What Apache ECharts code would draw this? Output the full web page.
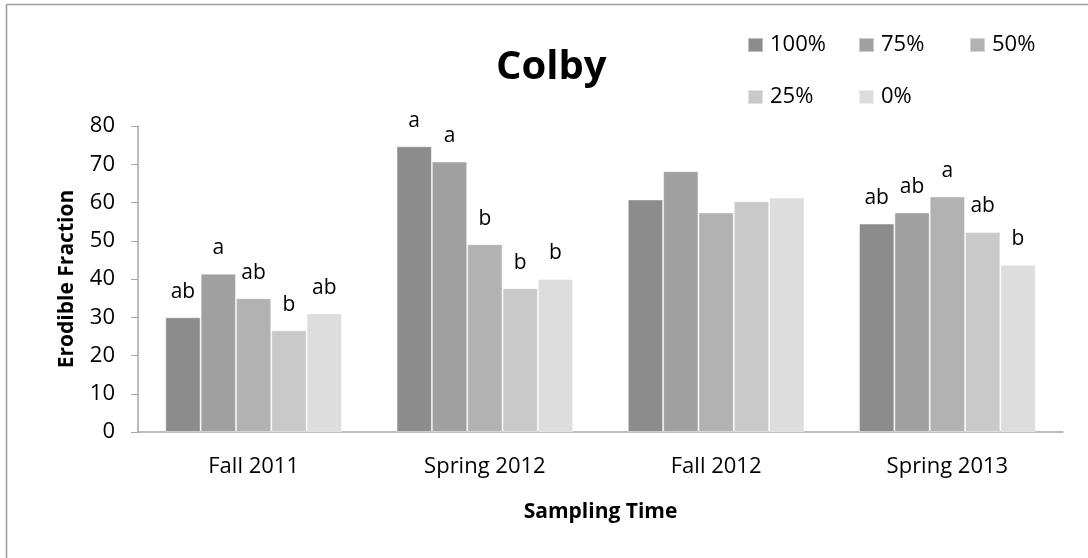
<!DOCTYPE html>
<html>
<head>
<meta charset="utf-8">
<script src="https://cdn.jsdelivr.net/npm/echarts@6/dist/echarts.min.js"></script>
<style>
  html, body { margin: 0; padding: 0; background: #fff; }
  #chart { width: 1088px; height: 558px; }
</style>
</head>
<body>
<div id="chart"></div>
<script>
// Sampling periods along the x axis
const categories = ['Fall 2011', 'Spring 2012', 'Fall 2012', 'Spring 2013'];

// Treatment levels (series) and their fill colours
const seriesNames = ['100%', '75%', '50%', '25%', '0%'];
const seriesColors = ['#8c8c8c', '#a0a0a0', '#b2b2b2', '#c9c9c9', '#dddddd'];

// Erodible fraction per treatment, one value per sampling period
const v100 = [30.0, 74.7, 60.8, 54.5];
const v75  = [41.4, 70.7, 68.2, 57.4];
const v50  = [35.0, 49.1, 57.4, 61.6];
const v25  = [26.6, 37.6, 60.3, 52.3];
const v0   = [31.0, 40.0, 61.3, 43.7];

// Significance letters above each bar ('' = none)
const l100 = ['ab', 'a', '', 'ab'];
const l75  = ['a', 'a', '', 'ab'];
const l50  = ['ab', 'b', '', 'a'];
const l25  = ['b', 'b', '', 'ab'];
const l0   = ['ab', 'b', '', 'b'];

const yTicks = [0, 10, 20, 30, 40, 50, 60, 70, 80];

const values = [v100, v75, v50, v25, v0];
const letters = [l100, l75, l50, l25, l0];

const FONT = 'Open Sans';

const chart = echarts.init(document.getElementById('chart'), null, { renderer: 'canvas' });

const series = seriesNames.map((name, i) => ({
  name: name,
  type: 'bar',
  barGap: '0%',
  barCategoryGap: '23.6%',
  itemStyle: { color: seriesColors[i], borderColor: 'rgba(255,255,255,0.45)', borderWidth: 1 },
  label: {
    show: true,
    position: 'top',
    distance: 15,
    color: '#000',
    fontFamily: FONT,
    fontSize: 21,
    formatter: p => letters[i][p.dataIndex]
  },
  data: values[i]
}));

// One legend per entry so they sit in a fixed two-row grid
const legendPos = [
  [747, 34], [858, 34], [969, 34],
  [747, 86], [858, 86]
];
const legends = seriesNames.map((name, i) => ({
  data: [name],
  left: legendPos[i][0],
  top: legendPos[i][1],
  orient: 'horizontal',
  icon: 'rect',
  itemWidth: 15,
  itemHeight: 14,
  itemGap: 0,
  selectedMode: false,
  padding: 0,
  textStyle: { fontFamily: FONT, fontSize: 22, color: '#000', padding: [0, 0, 0, 2] }
}));

chart.setOption({
  animation: false,
  backgroundColor: '#fff',
  color: seriesColors,
  title: {
    text: 'Colby',
    left: 496,
    top: 48,
    padding: 0,
    textStyle: { fontFamily: FONT, fontSize: 40, fontWeight: 'bold', color: '#000' }
  },
  legend: legends,
  grid: { left: 138, right: 25, top: 126, bottom: 126, containLabel: false },
  xAxis: {
    type: 'category',
    data: categories,
    axisLine: { lineStyle: { color: '#a6a6a6', width: 1.5 } },
    axisTick: { show: false },
    axisLabel: { fontFamily: FONT, fontSize: 22, color: '#000', margin: 24 },
    name: 'Sampling Time',
    nameLocation: 'middle',
    nameGap: 70,
    nameTextStyle: { fontFamily: FONT, fontSize: 21, fontWeight: 'bold', color: '#000' }
  },
  yAxis: {
    type: 'value',
    min: yTicks[0],
    max: yTicks[yTicks.length - 1],
    interval: yTicks[1] - yTicks[0],
    splitLine: { show: false },
    axisLine: { show: true, lineStyle: { color: '#a6a6a6', width: 1.5 } },
    axisTick: { show: true, length: 7, lineStyle: { color: '#a6a6a6' } },
    axisLabel: { fontFamily: FONT, fontSize: 22, color: '#000', margin: 23 },
    name: 'Erodible Fraction',
    nameLocation: 'middle',
    nameRotate: 90,
    nameGap: 60,
    nameTextStyle: { fontFamily: FONT, fontSize: 21, fontWeight: 'bold', color: '#000' }
  },
  graphic: [
    // frame edges along the top and left
    { type: 'line', shape: { x1: 6.5, y1: 4.5, x2: 1088, y2: 4.5 }, style: { stroke: '#9a9a9a', lineWidth: 1.5 } },
    { type: 'line', shape: { x1: 6.5, y1: 4.5, x2: 6.5, y2: 558 }, style: { stroke: '#9a9a9a', lineWidth: 1.5 } }
  ],
  series: series
});
</script>
</body>
</html>
